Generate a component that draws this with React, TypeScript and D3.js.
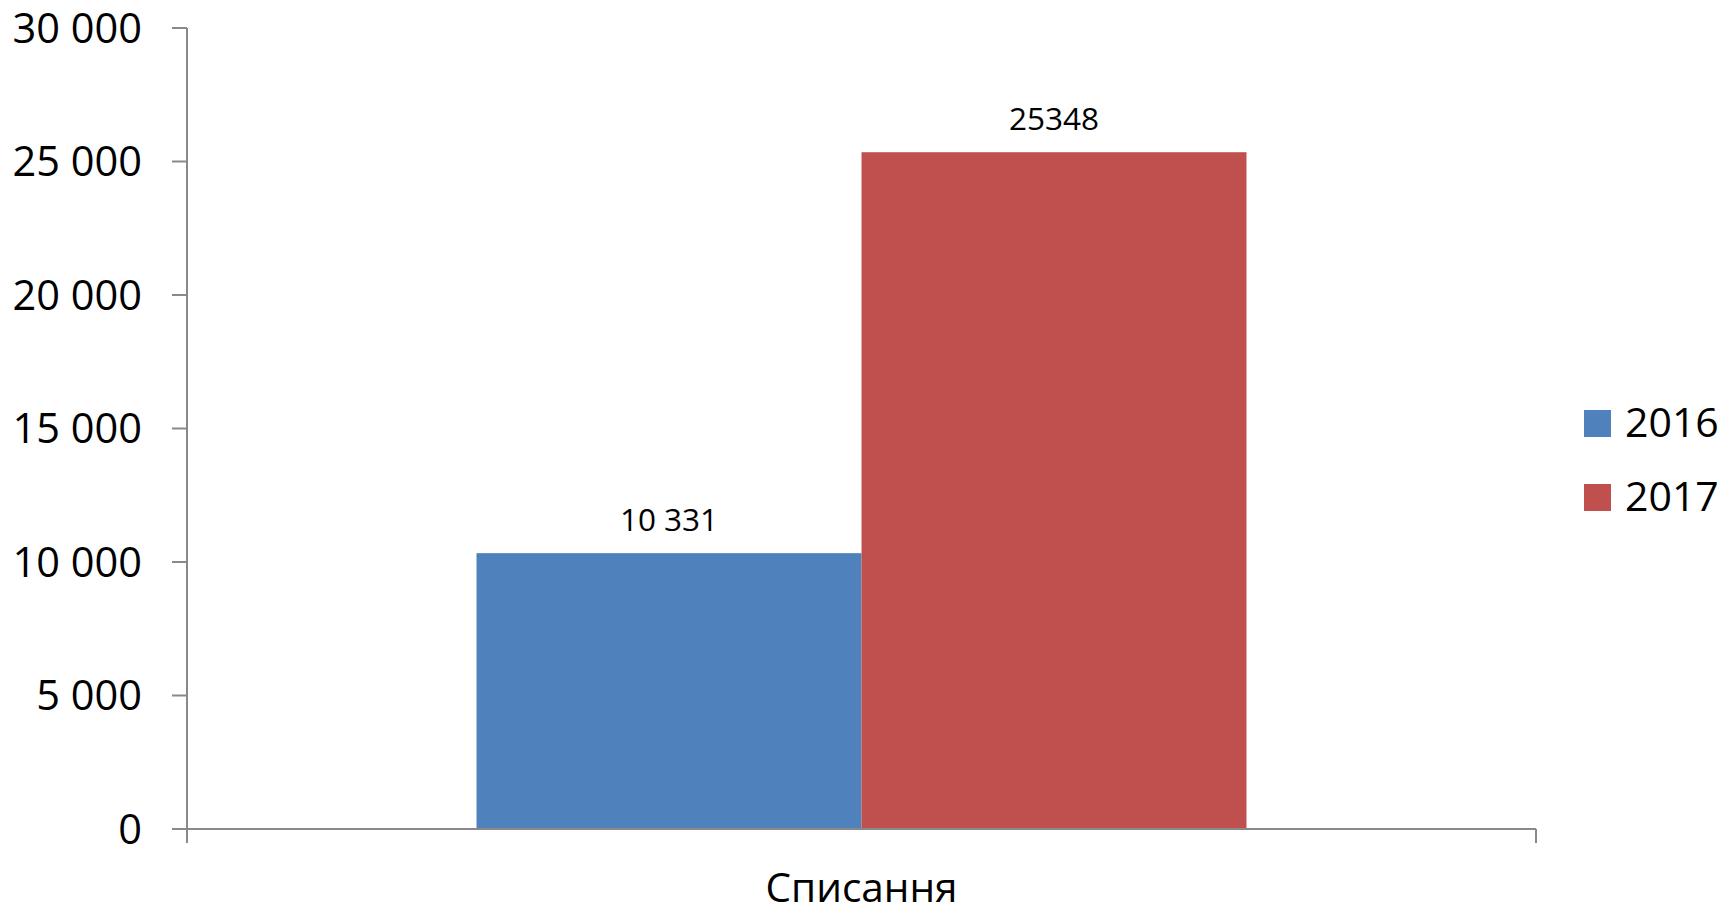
import React from "react";
import * as d3 from "d3";

const categories = ["Списання"];
const seriesNames = ["2016", "2017"];
const values2016 = [10331];
const values2017 = [25348];
const valueLabels2016 = ["10 331"];
const valueLabels2017 = ["25348"];
const yTicks = [0, 5000, 10000, 15000, 20000, 25000, 30000];
const colors = ["#4F81BD", "#C0504D"];

const W = 1736;
const H = 909;
const FONT = "'Open Sans', 'DejaVu Sans', sans-serif";

export default function App() {
  const y = d3.scaleLinear().domain([0, 30000]).range([829, 28]);
  const x0 = d3.scaleBand<string>().domain(categories).range([187, 1536]).padding(0);
  const x1 = d3
    .scaleBand<string>()
    .domain(seriesNames)
    .range([0, x0.bandwidth()])
    .paddingInner(0)
    .paddingOuter(0.752);
  const fmt = (v: number) => d3.format(",")(v).replace(/,/g, " ");
  const series = [
    { name: seriesNames[0], values: values2016, labels: valueLabels2016, color: colors[0] },
    { name: seriesNames[1], values: values2017, labels: valueLabels2017, color: colors[1] },
  ];
  const axisColor = "#898989";
  const y0 = y(0);

  return (
    <svg
      width={W}
      height={H}
      style={{ position: "absolute", left: 0, top: 0, background: "#fff" }}
      fontFamily={FONT}
    >
      {/* bars */}
      {categories.map((c, ci) =>
        series.map((s) => {
          const bx = (x0(c) ?? 0) + (x1(s.name) ?? 0);
          const by = y(s.values[ci]);
          return (
            <g key={c + s.name}>
              <rect x={bx} y={by} width={x1.bandwidth()} height={y0 - by} fill={s.color} />
              <text
                x={bx + x1.bandwidth() / 2}
                y={by - 22}
                textAnchor="middle"
                fontSize={31.5}
                fill="#000"
              >
                {s.labels[ci]}
              </text>
            </g>
          );
        })
      )}
      {/* y axis */}
      <line x1={187} x2={187} y1={y(30000)} y2={843} stroke={axisColor} strokeWidth={2} />
      {yTicks.map((t) => (
        <g key={t}>
          <line x1={172} x2={187} y1={y(t)} y2={y(t)} stroke={axisColor} strokeWidth={2} />
          <text
            x={142}
            y={y(t)}
            dy="0.35em"
            textAnchor="end"
            fontSize={41.5}
            fill="#000"
          >
            {fmt(t)}
          </text>
        </g>
      ))}
      {/* x axis */}
      <line x1={172} x2={1536} y1={y0} y2={y0} stroke={axisColor} strokeWidth={2} />
      {x0.range().map((xx, i) => (
        <line key={i} x1={xx} x2={xx} y1={y0} y2={843} stroke={axisColor} strokeWidth={2} />
      ))}
      {categories.map((c) => (
        <text
          key={c}
          x={(x0(c) ?? 0) + x0.bandwidth() / 2}
          y={902}
          textAnchor="middle"
          fontSize={40.5}
          fill="#000"
        >
          {c}
        </text>
      ))}
      {/* legend */}
      {series.map((s, i) => (
        <g key={s.name} transform={`translate(1584, ${410 + i * 74})`}>
          <rect x={0} y={0} width={27} height={27} fill={s.color} />
          <text x={41} y={27} fontSize={41} fill="#000">
            {s.name}
          </text>
        </g>
      ))}
    </svg>
  );
}
